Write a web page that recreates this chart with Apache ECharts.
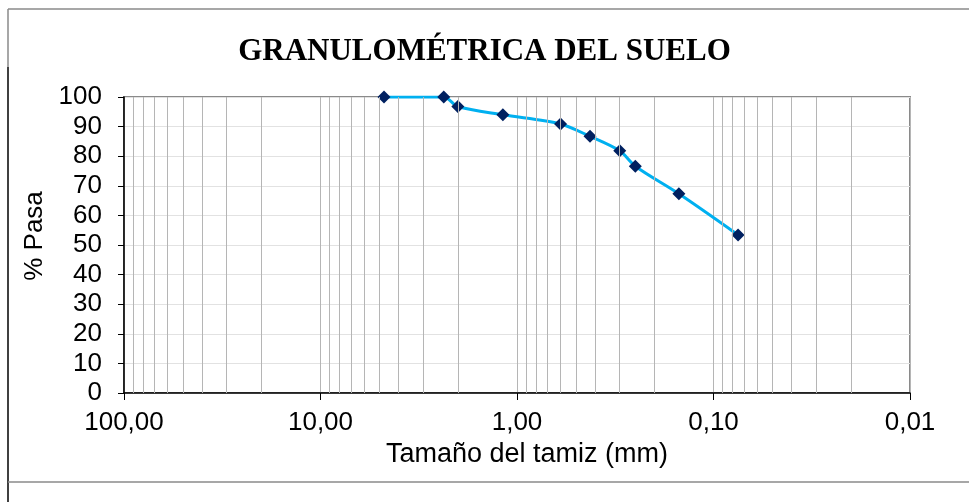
<!DOCTYPE html>
<html>
<head>
<meta charset="utf-8">
<script src="https://cdn.jsdelivr.net/npm/echarts@6/dist/echarts.min.js"></script>
<style>
html,body{margin:0;padding:0;background:#fff;}
#chart{width:969px;height:502px;}
</style>
</head>
<body>
<div id="chart"></div>
<script>
// Sieve sizes (mm) and percent passing
const sieveSizes = [4.75, 2.36, 2.00, 1.18, 0.60, 0.425, 0.30, 0.25, 0.15, 0.075];
const percentPassing = [100, 100, 96.8, 94.0, 90.9, 86.7, 81.8, 76.6, 67.3, 53.4];
// Minor vertical grid values (log sub-divisions)
const minorGrid = [
  90, 80, 70, 60, 50, 40, 30, 20,
  9, 8, 7, 6, 5, 4, 3, 2,
  0.9, 0.8, 0.7, 0.6, 0.5, 0.4, 0.3, 0.2,
  0.09, 0.08, 0.07, 0.06, 0.05, 0.04, 0.03, 0.02
];
const titleText = 'GRANULOMÉTRICA DEL SUELO';
const xName = 'Tamaño del tamiz (mm)';
const yName = '% Pasa';

const chart = echarts.init(document.getElementById('chart'), null, {renderer: 'canvas'});
const option = {
  animation: false,
  backgroundColor: '#ffffff',
  title: {
    text: titleText,
    left: 'center',
    top: 31,
    textStyle: {fontFamily: 'Liberation Serif', fontWeight: 'bold', fontSize: 31, color: '#000'}
  },
  grid: {
    left: 124, right: 59, top: 97, bottom: 109,
    show: true, borderColor: '#8a8a8a', borderWidth: 2, backgroundColor: 'transparent'
  },
  xAxis: {
    type: 'log',
    logBase: 10,
    min: 0.01,
    max: 100,
    inverse: true,
    name: xName,
    nameLocation: 'middle',
    nameGap: 47,
    nameTextStyle: {fontFamily: 'Liberation Sans', fontSize: 27, color: '#000', padding: [0, 0, 0, 20]},
    axisLine: {show: true, onZero: false, lineStyle: {color: '#000', width: 1.5}},
    axisTick: {show: true, length: 7, lineStyle: {color: '#000', width: 1}},
    axisLabel: {
      margin: 17,
      fontFamily: 'Liberation Sans', fontSize: 26, color: '#000',
      formatter: v => v.toFixed(2).replace('.', ',')
    },
    splitLine: {show: true, lineStyle: {color: '#B5B5B5', width: 1}}
  },
  yAxis: {
    type: 'value',
    min: 0, max: 100, interval: 10,
    name: yName,
    nameLocation: 'middle',
    nameGap: 74,
    nameRotate: 90,
    nameTextStyle: {fontFamily: 'Liberation Sans', fontSize: 26, color: '#000', padding: [0, 0, 0, 18]},
    axisLine: {show: true, lineStyle: {color: '#000', width: 1.5}},
    axisTick: {show: true, length: 6, lineStyle: {color: '#000', width: 1}},
    axisLabel: {margin: 22, fontFamily: 'Liberation Sans', fontSize: 26, color: '#000'},
    splitLine: {show: true, lineStyle: {color: '#E2E2E2', width: 1}}
  },
  series: [
    {
      type: 'line',
      z: 1,
      data: [],
      silent: true,
      markLine: {
        silent: true,
        symbol: ['none', 'none'],
        label: {show: false},
        animation: false,
        lineStyle: {color: '#B5B5B5', width: 1, type: 'solid'},
        data: minorGrid.map(v => ({xAxis: v}))
      }
    },
    {
      type: 'line',
      z: 3,
      data: sieveSizes.map((s, i) => [s, percentPassing[i]]),
      smooth: 0.3,
      symbol: 'diamond',
      symbolSize: 13,
      itemStyle: {color: '#002060'},
      lineStyle: {color: '#00B0F0', width: 3}
    }
  ],
  graphic: [
    {type: 'line', shape: {x1: 8, y1: 9, x2: 969, y2: 9}, style: {stroke: '#8a8a8a', lineWidth: 1.5}, silent: true},
    {type: 'line', shape: {x1: 8, y1: 9, x2: 8, y2: 67}, style: {stroke: '#8a8a8a', lineWidth: 1.5}, silent: true},
    {type: 'line', shape: {x1: 8, y1: 67, x2: 8, y2: 502}, style: {stroke: '#000', lineWidth: 1.5}, silent: true},
    {type: 'line', shape: {x1: 8, y1: 482, x2: 969, y2: 482}, style: {stroke: '#8a8a8a', lineWidth: 1.5}, silent: true}
  ]
};
chart.setOption(option);
</script>
</body>
</html>
